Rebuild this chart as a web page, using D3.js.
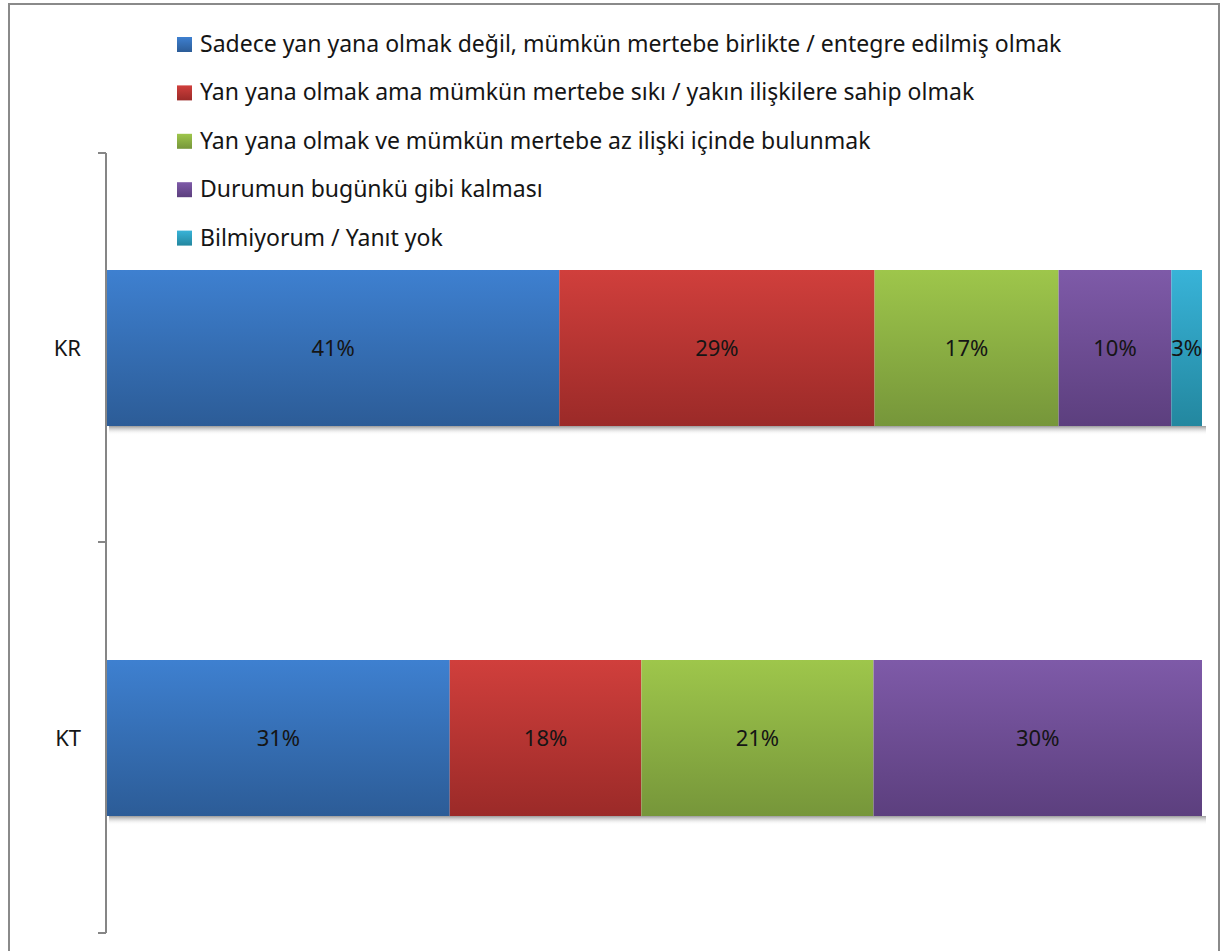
<!DOCTYPE html>
<html>
<head>
<meta charset="utf-8">
<script src="https://cdn.jsdelivr.net/npm/d3@7"></script>
<style>
  body { margin: 0; background: #fff; }
  svg { display: block; font-family: "Noto Sans", "Open Sans", sans-serif; }
</style>
</head>
<body>
<svg id="chart" width="1226" height="951"></svg>
<script>
// categories (rows) and series
const groups = ["KR", "KT"];
const seriesNames = [
  "Sadece yan yana olmak değil, mümkün mertebe birlikte / entegre edilmiş olmak",
  "Yan yana olmak ama mümkün mertebe sıkı / yakın ilişkilere sahip olmak",
  "Yan yana olmak ve mümkün mertebe az ilişki içinde bulunmak",
  "Durumun bugünkü gibi kalması",
  "Bilmiyorum / Yanıt yok"
];
const krValues = [41.3, 28.8, 16.8, 10.3, 2.8];
const ktValues = [31.3, 17.5, 21.2, 30.0, 0];
const krLabels = ["41%", "29%", "17%", "10%", "3%"];
const ktLabels = ["31%", "18%", "21%", "30%", ""];

// colour top / bottom for each series gradient
const colorsTop = ["#3e80d0", "#d03f3c", "#9ec64b", "#7e5aa8", "#38b3d8"];
const colorsBottom = ["#2c5c97", "#9b2a28", "#76963a", "#5c3f7e", "#23879f"];

const svg = d3.select("#chart");
const defs = svg.append("defs");

seriesNames.forEach((s, i) => {
  let g = defs.append("linearGradient")
      .attr("id", "grad" + i)
      .attr("x1", 0).attr("y1", 0).attr("x2", 0).attr("y2", 1);
  g.append("stop").attr("offset", "0%").attr("stop-color", colorsTop[i]);
  g.append("stop").attr("offset", "100%").attr("stop-color", colorsBottom[i]);
});

let shadow = defs.append("linearGradient")
    .attr("id", "shadow")
    .attr("x1", 0).attr("y1", 0).attr("x2", 0).attr("y2", 1);
shadow.append("stop").attr("offset", "0%").attr("stop-color", "#9a9a9a");
shadow.append("stop").attr("offset", "100%").attr("stop-color", "#ffffff").attr("stop-opacity", 0);

// outer frame
svg.append("path")
    .attr("d", "M9,960 V4 H1219 V960")
    .attr("fill", "none")
    .attr("stroke", "#8a8a8a")
    .attr("stroke-width", 2);

const x = d3.scaleLinear().domain([0, 100]).range([107, 1202]);
const y = d3.scaleBand().domain(groups).range([153, 933]).paddingInner(0.6).paddingOuter(0.3);

const rows = groups.map((g, gi) => {
  let vals = gi === 0 ? krValues : ktValues;
  let labs = gi === 0 ? krLabels : ktLabels;
  let acc = 0;
  return vals.map((v, i) => {
    let d = { group: g, series: i, x0: acc, x1: acc + v, label: labs[i] };
    acc += v;
    return d;
  }).filter(d => d.x1 > d.x0);
});
const segs = rows.flat();

// drop shadows under bars
svg.selectAll(".shadow")
    .data(groups)
    .join("rect")
    .attr("class", "shadow")
    .attr("x", x(0) + 2)
    .attr("y", d => y(d) + y.bandwidth())
    .attr("width", x(100) - x(0) + 2)
    .attr("height", 9)
    .attr("fill", "url(#shadow)");

svg.selectAll(".seg")
    .data(segs)
    .join("rect")
    .attr("class", "seg")
    .attr("x", d => x(d.x0))
    .attr("y", d => y(d.group))
    .attr("width", d => x(d.x1) - x(d.x0))
    .attr("height", y.bandwidth())
    .attr("fill", d => "url(#grad" + d.series + ")");

svg.selectAll(".lab")
    .data(segs)
    .join("text")
    .attr("class", "lab")
    .attr("x", d => (x(d.x0) + x(d.x1)) / 2)
    .attr("y", d => y(d.group) + y.bandwidth() / 2)
    .attr("dy", "0.35em")
    .attr("text-anchor", "middle")
    .attr("font-size", 22)
    .attr("fill", "#151515")
    .text(d => d.label);

// vertical axis with ticks at band edges
const axisX = 106;
svg.append("line")
    .attr("x1", axisX).attr("x2", axisX)
    .attr("y1", 153).attr("y2", 933)
    .attr("stroke", "#868686").attr("stroke-width", 2);
const tickYs = [153, 542, 933];
svg.selectAll(".tick")
    .data(tickYs)
    .join("line")
    .attr("x1", 98).attr("x2", axisX)
    .attr("y1", d => d).attr("y2", d => d)
    .attr("stroke", "#868686").attr("stroke-width", 2);

svg.selectAll(".ylab")
    .data(groups)
    .join("text")
    .attr("x", 81)
    .attr("y", d => y(d) + y.bandwidth() / 2)
    .attr("dy", "0.35em")
    .attr("text-anchor", "end")
    .attr("font-size", 22)
    .attr("fill", "#151515")
    .text(d => d);

// legend
const legend = svg.append("g");
const legItems = legend.selectAll("g")
    .data(seriesNames)
    .join("g")
    .attr("transform", (d, i) => `translate(177, ${44 + i * 48.4})`);
legItems.append("rect")
    .attr("x", 0).attr("y", -7)
    .attr("width", 15).attr("height", 15)
    .attr("fill", (d, i) => "url(#grad" + i + ")");
legItems.append("text")
    .attr("x", 23)
    .attr("dy", "0.35em")
    .attr("font-size", 23)
    .attr("fill", "#151515")
    .text(d => d);
</script>
</body>
</html>
